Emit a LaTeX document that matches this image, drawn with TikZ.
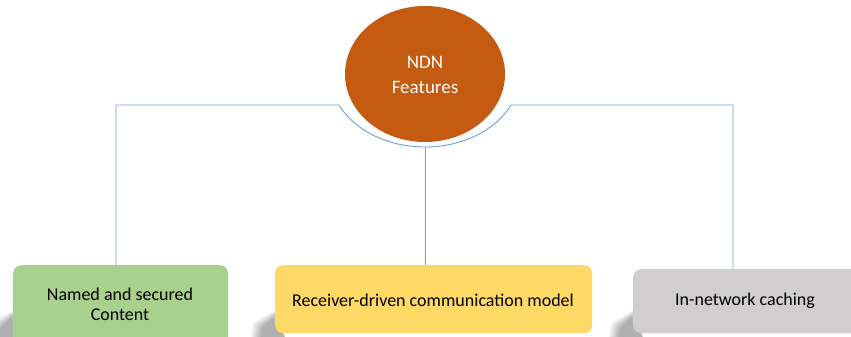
\documentclass[tikz,border=0pt]{standalone}
\usepackage{fontspec}
\setmainfont{Carlito}
\usetikzlibrary{shapes.geometric,calc}
\definecolor{ndnorange}{HTML}{C55A11}
\definecolor{boxgreen}{HTML}{A9D18E}
\definecolor{boxyellow}{HTML}{FFD966}
\definecolor{boxgray}{HTML}{D0CECE}
\definecolor{linkblue}{HTML}{6FA0D6}
\tikzset{
  featbox/.style={rounded corners=8pt, draw=none, inner sep=0pt},
  feattext/.style={align=center, font=\fontsize{18}{20}\selectfont, text=black},
  link/.style={draw=linkblue, line width=0.9pt},
}
\newcommand\boxshadowat[1]{%
  \foreach \i in {0,...,7}{%
    \fill[black, opacity=0.045] ($(#1)+(2-0.6*\i,28-1.3*\i)$) -- ($(#1)+(-22+1.4*\i,14-0.7*\i)$) -- ($(#1)+(-25+1.4*\i,-5)$) -- ($(#1)+(12,-5)$) -- cycle;
  }%
}
\begin{document}
\begin{tikzpicture}[x=1pt,y=1pt]
\clip (0,0) rectangle (851,337);
\fill[white] (0,0) rectangle (851,337);
% shadows
\coordinate (shG) at (13,0);
\coordinate (shY) at (275,0);
\coordinate (shA) at (633,0);
\boxshadowat{shG}
\boxshadowat{shY}
\boxshadowat{shA}
% boxes
\node[featbox, fill=boxgreen, minimum width=215pt, minimum height=82pt, anchor=north west] (green) at (13,72) {};
\node[feattext] (greent) at (120,33) {Named and secured\\Content};
\node[featbox, fill=boxyellow, minimum width=317pt, minimum height=68pt, anchor=north west] (yellow) at (275,72) {};
\node[feattext] (yellowt) at (433,37) {Receiver-driven communication model};
\node[featbox, fill=boxgray, minimum width=240pt, minimum height=64pt, anchor=north west] (gray) at (633,68) {};
\node[feattext] (grayt) at (745,36) {In-network caching};
% ellipse
\node[ellipse, fill=ndnorange, minimum width=160pt, minimum height=136pt, inner sep=0pt] (ndn) at (425,263) {};
\node[text=white, align=center, font=\fontsize{19}{25}\selectfont] (ndnt) at (425,262) {NDN\\Features};
% arc and connectors
\coordinate (arcL) at ($(ndn.center)+(205.1:95pt and 73pt)$);
\draw[link] (ndn.center) ++(205.1:95pt and 73pt) arc[start angle=205.1, end angle=334.9, x radius=95pt, y radius=73pt] coordinate (arcR);
\coordinate (arcB) at (425,190);
\coordinate (cL) at (116,232);
\coordinate (cR) at (733,232);
\draw[link] (arcL) -- (cL) -- (cL |- green.north);
\draw[link] (arcR) -- (cR) -- (cR |- gray.north);
\draw[link] (arcB) -- (arcB |- yellow.north);
\end{tikzpicture}
\end{document}
